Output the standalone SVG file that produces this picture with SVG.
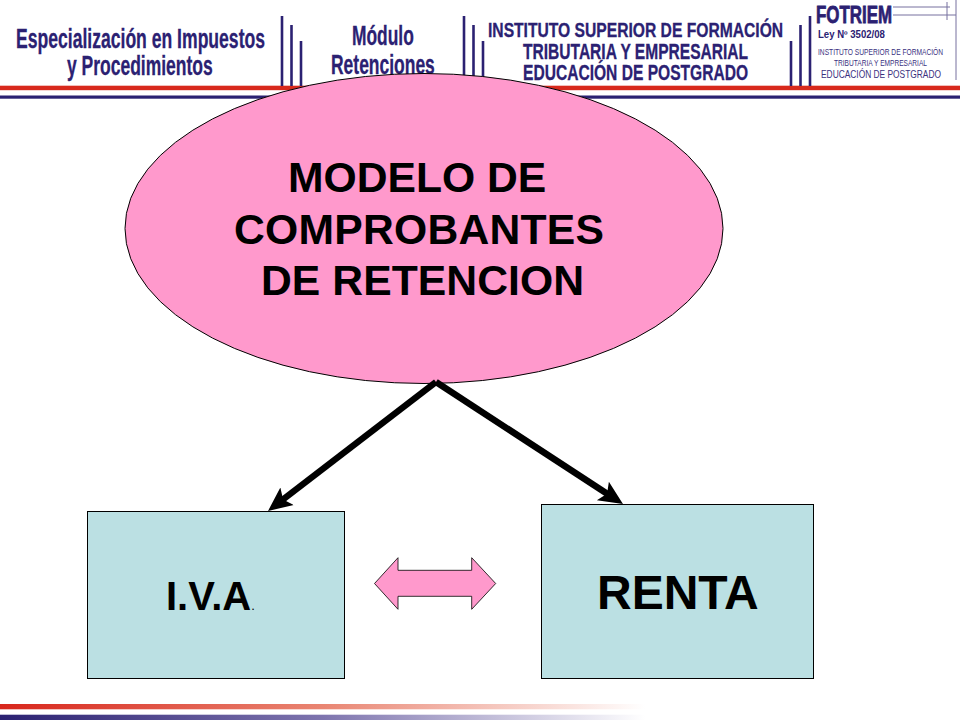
<svg xmlns="http://www.w3.org/2000/svg" width="960" height="720" viewBox="0 0 960 720">
<style>
text{font-family:"Liberation Sans",Arial,sans-serif;}
.h{fill:#2b2172;font-weight:bold;stroke:#2b2172;stroke-width:0.3;}
.s{fill:#3a3180;font-weight:normal;}
.m{fill:#000;font-weight:bold;font-size:42.670px;}
.n{stroke:#000;stroke-width:1;}
.v{stroke:#2b2172;stroke-width:2.6;}
.l{stroke:#77719f;stroke-width:1;}
.c{stroke:#000;stroke-width:6.500;fill:none;marker-end:url(#head);}
</style>
<defs>
<marker id="head" markerUnits="userSpaceOnUse" markerWidth="26" markerHeight="26" refX="6" refY="13" orient="auto">
<path d="M0,2 L24,13 L0,24 L5,13 Z" fill="#000"/>
</marker>
<linearGradient id="gr" x1="0" x2="1" y1="0" y2="0"><stop offset="0" stop-color="#d8261c"/><stop offset="0.5" stop-color="#e98572"/><stop offset="1" stop-color="#ffffff"/></linearGradient>
<linearGradient id="gb" x1="0" x2="1" y1="0" y2="0"><stop offset="0" stop-color="#2b2172"/><stop offset="0.5" stop-color="#7e74ae"/><stop offset="1" stop-color="#ffffff"/></linearGradient>
</defs>
<rect width="960" height="720" fill="#fff"/>
<g id="header">
<rect x="0" y="85.700" width="960" height="4.500" fill="#d8291c"/>
<rect x="0" y="95.500" width="960" height="3.200" fill="#2b2172"/>
<g>
<line class="v" x1="282" y1="16" x2="282" y2="86"/><line class="v" x1="291.500" y1="25" x2="291.500" y2="86"/><line class="v" x1="301" y1="41" x2="301" y2="86"/>
<line class="v" x1="464" y1="16" x2="464" y2="86"/><line class="v" x1="473.500" y1="25" x2="473.500" y2="86"/><line class="v" x1="483" y1="41" x2="483" y2="86"/>
<line class="v" x1="791" y1="41" x2="791" y2="86"/><line class="v" x1="800.500" y1="25" x2="800.500" y2="86"/><line class="v" x1="810" y1="16" x2="810" y2="86"/>
<line class="l" x1="893" y1="7" x2="950" y2="7"/><line class="l" x1="893" y1="15" x2="956" y2="15"/><line class="l" x1="947" y1="2" x2="947" y2="20"/><line class="l" x1="956" y1="0" x2="956" y2="80"/>
</g>
<text class="h" transform="translate(16,48) scale(.6,1)" font-size="28" textLength="415" lengthAdjust="spacingAndGlyphs">Especialización en Impuestos</text>
<text class="h" transform="translate(67,75) scale(.55,1)" font-size="28" textLength="265" lengthAdjust="spacingAndGlyphs">y Procedimientos</text>
<text class="h" transform="translate(352,45) scale(.6,1)" font-size="28" textLength="103" lengthAdjust="spacingAndGlyphs">Módulo</text>
<text class="h" transform="translate(331,74) scale(.6,1)" font-size="28" textLength="173" lengthAdjust="spacingAndGlyphs">Retenciones</text>
<text class="h" transform="translate(488,37) scale(.68,1)" font-size="20" textLength="434" lengthAdjust="spacingAndGlyphs">INSTITUTO SUPERIOR DE FORMACIÓN</text>
<text class="h" transform="translate(523,59) scale(.62,1)" font-size="22" textLength="363" lengthAdjust="spacingAndGlyphs">TRIBUTARIA Y EMPRESARIAL</text>
<text class="h" transform="translate(523,80) scale(.61,1)" font-size="22" textLength="369" lengthAdjust="spacingAndGlyphs">EDUCACIÓN DE POSTGRADO</text>
<text class="h" transform="translate(816,23) scale(.7,1)" font-size="24" textLength="108.600" lengthAdjust="spacingAndGlyphs" style="stroke-width:.8">FOTRIEM</text>
<text class="h" transform="translate(818,38) scale(.9,1)" font-size="10" style="stroke-width:0" textLength="74.400" lengthAdjust="spacingAndGlyphs">Ley Nº 3502/08</text>
<text class="s" transform="translate(818,55) scale(.7,1)" font-size="9" textLength="178.600" lengthAdjust="spacingAndGlyphs">INSTITUTO SUPERIOR DE FORMACIÓN</text>
<text class="s" transform="translate(834,66) scale(.73,1)" font-size="8.500" textLength="127.400" lengthAdjust="spacingAndGlyphs">TRIBUTARIA Y EMPRESARIAL</text>
<text class="s" transform="translate(821,78) scale(.71,1)" font-size="11" textLength="169" lengthAdjust="spacingAndGlyphs">EDUCACIÓN DE POSTGRADO</text>
</g>
<g id="footer">
<rect x="0" y="704" width="645" height="5.300" fill="url(#gr)"/>
<rect x="0" y="714.700" width="645" height="5.300" fill="url(#gb)"/>
</g>
<g id="node-modelo">
<ellipse class="n" cx="424" cy="228.500" rx="299" ry="155" fill="#ff99cc"/>
<text class="m" x="288" y="192">MODELO DE</text>
<text class="m" x="234" y="244" textLength="370">COMPROBANTES</text>
<text class="m" x="261" y="295" textLength="323">DE RETENCION</text>
</g>
<g id="node-iva">
<rect class="n" x="87.500" y="511.500" width="257" height="167" fill="#bbe0e3"/>
<text x="166" y="610" font-size="40" font-weight="bold" fill="#000">I.V.A<tspan font-size="13" font-weight="normal">.</tspan></text>
</g>
<g id="node-renta">
<rect class="n" x="541.500" y="504.500" width="272" height="174" fill="#bbe0e3"/>
<text x="597" y="609" font-size="48" font-weight="bold" fill="#000">RENTA</text>
</g>
<g id="node-doble-flecha">
<polygon points="374.500,583.500 398,557.700 398,570.300 471.700,570.300 471.700,557.700 495.700,583.500 471.700,609.300 471.700,596.300 398,596.300 398,609.300" fill="#ff99cc" stroke="#000" stroke-width="0.800"/>
</g>
<g id="connectors">
<line class="c" x1="436" y1="382" x2="282.300" y2="500"/>
<line class="c" x1="436" y1="382" x2="607.900" y2="494.200"/>
</g>
</svg>
